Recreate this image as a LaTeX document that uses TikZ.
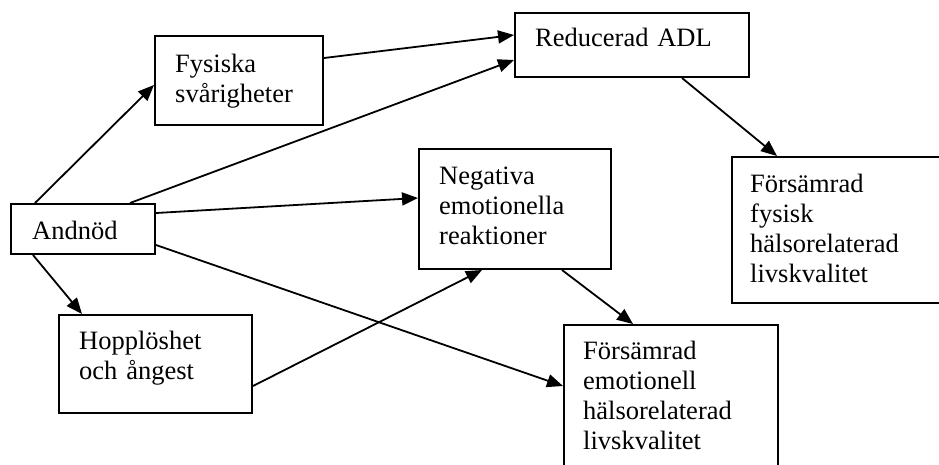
\documentclass[tikz,border=0pt]{standalone}
\usepackage{fontspec}
\setmainfont{Liberation Serif}
\usetikzlibrary{arrows.meta,calc}
\begin{document}
\begin{tikzpicture}[x=1pt,y=-1pt,
  box/.style={draw=black, line width=2pt, inner sep=0pt, anchor=north west},
  txt/.style={anchor=base west, inner sep=0pt, align=left, text width=220pt, font=\fontsize{26.5}{30}\selectfont},
  conn/.style={line width=1.8pt, -{Triangle[length=16pt,width=13pt]}}]
\useasboundingbox (0,0) rectangle (939,464);
\clip (0,0) rectangle (939,464);
% boxes
\node[box, minimum width=144pt, minimum height=50pt] (andnod) at (10,203) {};
\node[box, minimum width=168pt, minimum height=89pt] (fys) at (154,35) {};
\node[box, minimum width=234pt, minimum height=64pt] (adl) at (514,12) {};
\node[box, minimum width=192pt, minimum height=120pt] (neg) at (418,148) {};
\node[box, minimum width=220pt, minimum height=146pt] (ffys) at (731,156) {};
\node[box, minimum width=193pt, minimum height=98pt] (hopp) at (58,314) {};
\node[box, minimum width=214pt, minimum height=170pt] (femo) at (563,324) {};
% texts
\node[txt] (andnodT) at (32,239) {Andnöd};
\node[txt] (fysT) at (175,72) {Fysiska\\svårigheter};
\node[txt] (adlT) at (535,46) {Reducerad ADL};
\node[txt] (negT) at (439,184) {Negativa\\emotionella\\reaktioner};
\node[txt] (ffysT) at (750,192) {Försämrad\\fysisk\\hälsorelaterad\\livskvalitet};
\node[txt] (hoppT) at (79,349) {Hopplöshet\\och ångest};
\node[txt] (femoT) at (583,359) {Försämrad\\emotionell\\hälsorelaterad\\livskvalitet};
% connectors
\draw[conn] ($(andnod.north west)+(25,0)$) -- ($(fys.north west)+(0,50)$);
\draw[conn] ($(andnod.north west)+(120,0)$) -- ($(adl.north west)+(0,48)$);
\draw[conn] ($(fys.north east)+(0,23)$) -- ($(adl.north west)+(0,23)$);
\draw[conn] ($(andnod.north east)+(0,10)$) -- ($(neg.north west)+(0,50)$);
\draw[conn] ($(andnod.south west)+(23,0)$) -- ($(hopp.north west)+(24,0)$);
\draw[conn] ($(andnod.north east)+(0,42)$) -- ($(femo.north west)+(0,62)$);
\draw[conn] ($(hopp.north east)+(0,72)$) -- ($(neg.south west)+(64,0)$);
\draw[conn] ($(neg.south west)+(144,0)$) -- ($(femo.north west)+(70,0)$);
\draw[conn] ($(adl.south west)+(168,0)$) -- ($(ffys.north west)+(46,0)$);
\end{tikzpicture}
\end{document}
